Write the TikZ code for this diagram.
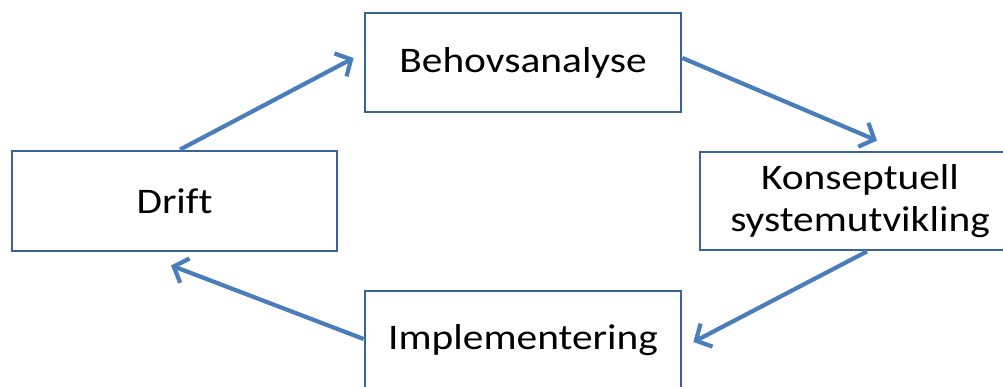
\documentclass[tikz,border=0pt]{standalone}
\usepackage{fontspec}
\setmainfont[FakeStretch=1.15,Ligatures=NoCommon]{Carlito}
\usetikzlibrary{arrows.meta,calc}
\definecolor{boxline}{HTML}{3B639A}
\definecolor{flow}{HTML}{4A7EBB}
\begin{document}
\begin{tikzpicture}[x=1pt,y=1pt,
  stage/.style={draw=boxline, line width=2.8pt, fill=white, inner sep=0pt,
    align=center, font=\fontsize{36}{42}\selectfont, text=black},
  flowarrow/.style={draw=flow, line width=4.2pt,
    -{Straight Barb[length=12pt,width=26pt,line width=4.2pt]}}]
  \useasboundingbox (0,0) rectangle (1003,387);
  \clip (0,0) rectangle (1003,387);
  \fill[white] (0,0) rectangle (1003,387);

  % the four phases of the cycle
  \node[stage, minimum width=316pt, minimum height=99pt] (beh) at (523,324.5) {Behovsanalyse};
  \node[stage, minimum width=325pt, minimum height=100pt] (drift) at (174.5,186) {Drift};
  \node[stage, minimum width=320pt, minimum height=98pt] (kon) at (860,186) {Konseptuell\\systemutvikling};
  \node[stage, minimum width=316pt, minimum height=98pt] (imp) at (523,47) {Implementering};

  % connectors, clockwise
  \draw[flowarrow] ($(drift.north)+(5.5,0)$) -- ($(beh.west)+(-10,4.5)$);
  \draw[flowarrow] ($(beh.east)+(0,4.5)$) -- ($(kon.north)+(17,10)$);
  \draw[flowarrow] ($(kon.south)+(7,0)$) -- ($(imp.east)+(11,-2)$);
  \draw[flowarrow] ($(imp.west)+(0,1)$) -- ($(drift.south)+(-3.5,-13)$);
\end{tikzpicture}
\end{document}
